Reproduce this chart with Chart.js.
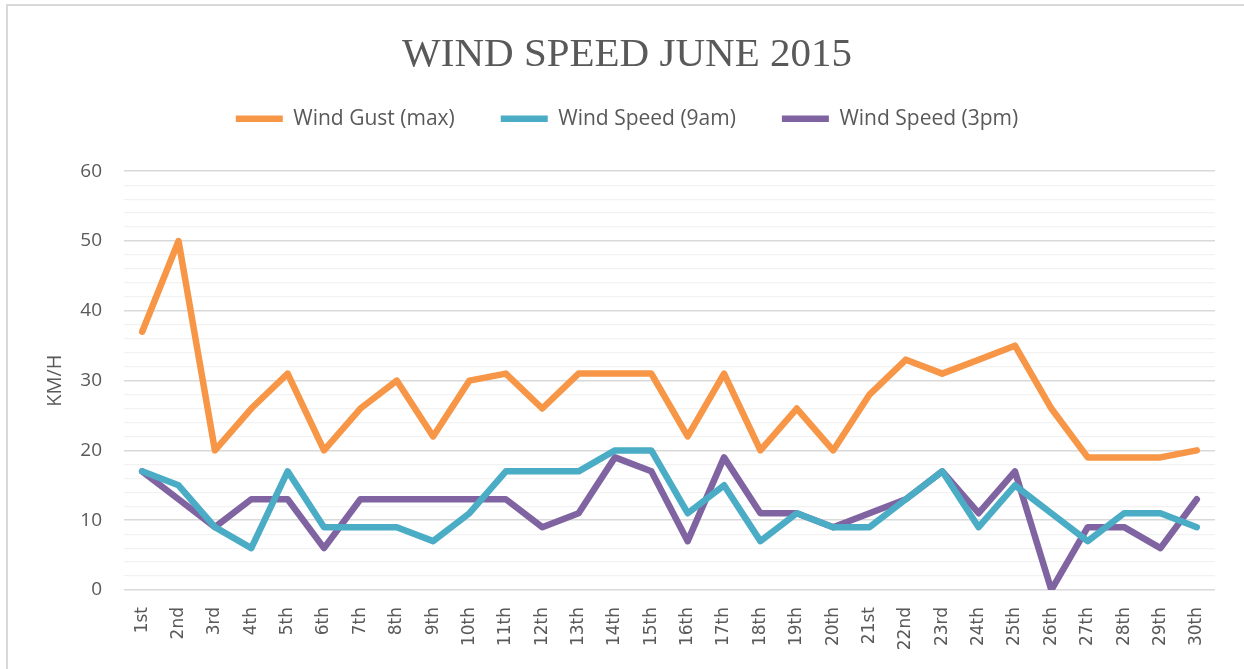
<!DOCTYPE html>
<html>
<head>
<meta charset="utf-8">
<script src="https://cdn.jsdelivr.net/npm/chart.js@4/dist/chart.umd.min.js"></script>
<style>
  html, body { margin: 0; padding: 0; background: #ffffff; }
  #frame { position: absolute; left: 6px; top: 4px; width: 1236px; height: 680px;
           border-left: 2px solid #d9d9d9; border-top: 2px solid #d9d9d9; border-right: 1px solid #eeeeee; }
  #wrap { position: absolute; left: 0; top: 0; width: 1244px; height: 669px; }
</style>
</head>
<body>
<div id="frame"></div>
<div id="wrap"><canvas id="c" width="1244" height="669"></canvas></div>
<script>
const days = ['1st','2nd','3rd','4th','5th','6th','7th','8th','9th','10th','11th','12th','13th','14th','15th','16th','17th','18th','19th','20th','21st','22nd','23rd','24th','25th','26th','27th','28th','29th','30th'];
const windGust = [37,50,20,26,31,20,26,30,22,30,31,26,31,31,31,22,31,20,26,20,28,33,31,33,35,26,19,19,19,20];
const windSpeed9am = [17,15,9,6,17,9,9,9,7,11,17,17,17,20,20,11,15,7,11,9,9,13,17,9,15,11,7,11,11,9];
const windSpeed3pm = [17,13,9,13,13,6,13,13,13,13,13,9,11,19,17,7,19,11,11,9,11,13,17,11,17,0,9,9,6,13];
const seriesNames = ['Wind Gust (max)', 'Wind Speed (9am)', 'Wind Speed (3pm)'];
const yTicks = [0, 10, 20, 30, 40, 50, 60];

const colors = ['#F79646', '#4BACC6', '#8064A2'];
const textColor = '#595959';

function ds(label, data, color) {
  return {
    label: label, data: data,
    borderColor: color, backgroundColor: color,
    borderWidth: 6.5, pointRadius: 0, pointHoverRadius: 0,
    borderJoinStyle: 'round', borderCapStyle: 'round',
    tension: 0, fill: false
  };
}

const legendMargin = {
  id: 'legendMargin',
  beforeInit(chart) {
    const origFit = chart.legend.fit;
    chart.legend.fit = function () {
      origFit.bind(chart.legend)();
      this.height += 32;
    };
  }
};

new Chart(document.getElementById('c'), {
  type: 'line',
  data: {
    labels: days,
    datasets: [
      ds(seriesNames[0], windGust, colors[0]),
      ds(seriesNames[1], windSpeed9am, colors[1]),
      ds(seriesNames[2], windSpeed3pm, colors[2])
    ]
  },
  plugins: [legendMargin],
  options: {
    responsive: false,
    animation: false,
    events: [],
    layout: { padding: { left: 39, right: 29, top: 0, bottom: 0 } },
    plugins: {
      tooltip: { enabled: false },
      title: {
        display: true,
        text: 'WIND SPEED JUNE 2015',
        color: textColor,
        font: { family: 'Liberation Serif', size: 41, weight: 'normal' },
        padding: { top: 31, bottom: -18 }
      },
      legend: {
        display: true,
        position: 'top',
        labels: {
          color: textColor,
          font: { family: 'Open Sans', size: 21 },
          usePointStyle: true,
          pointStyle: 'line',
          pointStyleWidth: 47,
          boxHeight: 7,
          padding: 46
        }
      }
    },
    scales: {
      x: {
        offset: true,
        grid: { display: false, drawTicks: false },
        border: { display: false },
        ticks: {
          color: textColor,
          font: { family: 'DejaVu Sans', size: 17 },
          minRotation: 90, maxRotation: 90,
          padding: 17,
          autoSkip: false
        },
        afterFit(scale) { scale.height = 79; }
      },
      y: {
        min: 0, max: 60,
        border: { display: false },
        grid: {
          drawTicks: false,
          color: (ctx) => (ctx.tick && ctx.tick.value % 10 === 0) ? '#d9d9d9' : '#f2f2f2',
          lineWidth: (ctx) => (ctx.tick && ctx.tick.value % 10 === 0) ? 1.6 : 1.2
        },
        ticks: {
          stepSize: 2,
          autoSkip: false,
          color: textColor,
          font: { family: 'Open Sans', size: 19 },
          padding: 22,
          callback: (v) => yTicks.includes(v) ? String(v) : ''
        },
        title: {
          display: true,
          text: 'KM/H',
          color: textColor,
          font: { family: 'Open Sans', size: 20 },
          padding: { top: 4, bottom: 0 }
        },
        afterFit(scale) { scale.width = 85; }
      }
    }
  }
});
</script>
</body>
</html>
